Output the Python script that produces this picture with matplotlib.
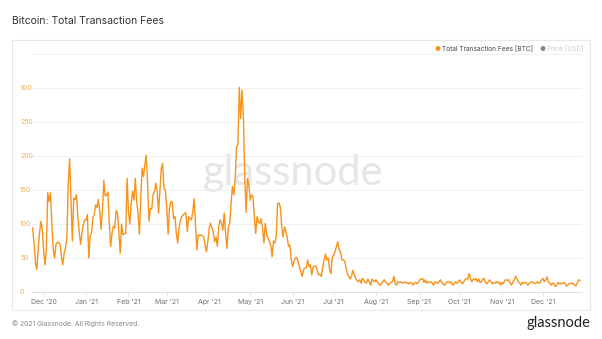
import matplotlib

matplotlib.use("Agg")
import matplotlib.dates as mdates
import matplotlib.pyplot as plt
import numpy as np
import pandas as pd
from matplotlib.patches import Rectangle

plt.rcParams["font.family"] = ["Inter", "DejaVu Sans"]

# daily total fees in BTC, late Nov 2020 -> end of Dec 2021
fees_nov_jan = [94, 72, 43, 33, 62, 87, 104, 92, 62, 40, 62, 146, 133, 146, 101, 62, 50, 70,
                73, 73, 70, 52, 40, 57, 65, 79, 160, 196, 136, 75, 138, 136, 143, 111, 89, 70,
                87, 99, 106, 106, 114, 50, 82, 87, 109, 114, 128, 124, 136, 119, 92, 121, 164,
                141, 143, 147, 101, 67, 87, 97, 94, 120, 116, 87, 57, 100]
fees_jan_apr = [84, 86, 86, 167, 118, 100, 130, 148, 135, 167, 133, 116, 85, 138, 182, 170,
                187, 201, 160, 104, 123, 122, 143, 148, 160, 148, 116, 148, 182, 189, 152, 150,
                123, 85, 123, 133, 132, 108, 111, 86, 72, 94, 106, 111, 113, 116, 116, 89, 111,
                108, 106, 118, 137, 99, 62, 84, 83, 84, 83, 81, 69, 59, 74, 94, 101, 94, 88, 74, 81]
fees_apr_jun = [67, 96, 106, 101, 91, 116, 86, 64, 96, 101, 130, 155, 143, 165, 214, 216, 301,
                255, 297, 258, 170, 117, 167, 157, 135, 143, 140, 111, 86, 111, 103, 101, 108,
                94, 72, 101, 84, 79, 75, 69, 52, 75, 72, 81, 130, 131, 125, 96, 81, 96, 89, 81,
                67, 69, 47, 37, 45, 50, 51, 45, 37, 30, 23, 33, 35]
fees_jun_sep = [36, 47, 37, 40, 25, 37, 38, 38, 32, 25, 26, 23, 37, 47, 56, 47, 50, 33, 27, 52,
                54, 59, 67, 74, 62, 59, 47, 47, 46, 36, 27, 23, 19, 23, 32, 26, 20, 17, 15, 18,
                13, 20, 18, 14, 13, 19, 15, 10, 19, 17, 15, 18, 14, 12, 10, 13, 15, 18, 14, 13,
                10, 13, 14, 15, 23, 12]
fees_sep_nov = [10, 15, 14, 15, 13, 14, 15, 13, 14, 12, 14, 13, 10, 13, 14, 12, 15, 18, 19, 20,
                14, 18, 13, 15, 14, 15, 13, 10, 15, 14, 13, 15, 18, 14, 12, 10, 13, 15, 15, 13,
                15, 10, 12, 15, 13, 14, 18, 15, 12, 15, 18, 20, 19, 27, 20, 15, 19, 18, 20, 15,
                19, 14, 15, 19, 20, 14, 12, 15, 18]
fees_nov_dec = [15, 12, 14, 13, 15, 13, 15, 10, 14, 12, 17, 18, 17, 18, 13, 10, 15, 18, 23, 19,
                15, 13, 10, 14, 13, 14, 13, 10, 13, 14, 15, 14, 12, 13, 15, 13, 14, 18, 20, 15,
                18, 22, 15, 13, 10, 13, 12, 8, 10, 14, 12, 13, 12, 14, 13, 9, 10, 12, 13, 12,
                13, 10, 9, 13, 18, 17]

fees = np.array(fees_nov_jan + fees_jan_apr + fees_apr_jun
                + fees_jun_sep + fees_sep_nov + fees_nov_dec, dtype=float)
dates = pd.date_range(end="2021-12-28", periods=len(fees), freq="D")

y_ticks = [0, 50, 100, 150, 200, 250, 300]

ORANGE = "#f7931a"
GRID = "#f0f0f0"

fig = plt.figure(figsize=(6.02, 3.39), dpi=100)
fig.patch.set_facecolor("white")

# card frame around the chart
fig.patches.append(Rectangle((12 / 602, 1 - 310 / 339), 578 / 602, 270 / 339,
                             transform=fig.transFigure, facecolor="none",
                             edgecolor="#e8e8e8", linewidth=0.8))

ax = fig.add_axes([32 / 602, 1 - 292 / 339, 550 / 602, 238 / 339])
ax.plot(dates, fees, color=ORANGE, linewidth=1.0, zorder=3)

ax.set_ylim(0, 350)
ax.set_xlim(dates[0] - pd.Timedelta(days=0.5), dates[-1] + pd.Timedelta(days=1.5))
ax.set_yticks(y_ticks)
for v in y_ticks[1:] + [350]:
    ax.axhline(v, color=GRID, linewidth=0.7, zorder=1)

ax.xaxis.set_major_locator(mdates.MonthLocator())
ax.xaxis.set_major_formatter(mdates.DateFormatter("%b '%y"))
ax.tick_params(axis="x", length=3, width=0.6, color="#e0e0e0", pad=2,
               labelsize=5, labelcolor="#707070")
ax.tick_params(axis="y", length=0, pad=8.6, labelsize=5, labelcolor="#f0b060")
for lbl in ax.get_yticklabels():
    lbl.set_horizontalalignment("left")

for side in ("top", "right", "left"):
    ax.spines[side].set_visible(False)
ax.spines["bottom"].set_color("#e0e0e0")
ax.spines["bottom"].set_linewidth(0.7)

# faint watermark behind the series
ax.text(0.475, 0.5, "glassnode", transform=ax.transAxes, ha="center", va="center",
        fontsize=30, color="#e6e6e6", family=["Lato", "DejaVu Sans"], zorder=0)

fig.text(12 / 602, 1 - 21 / 339, "Bitcoin: Total Transaction Fees", fontsize=7.5,
         color="#333333", va="center", ha="left")

# legend in the top right of the card
fig.text(438 / 602, 1 - 49 / 339, "\u25CF", color=ORANGE, fontsize=4.8, va="center", ha="center")
fig.text(442 / 602, 1 - 49 / 339, "Total Transaction Fees [BTC]", color="#444444",
         fontsize=4.7, va="center", ha="left")
fig.text(543 / 602, 1 - 49 / 339, "\u25CF", color="#888888", fontsize=4.8, va="center", ha="center")
fig.text(547 / 602, 1 - 49 / 339, "Price [USD]", color="#cccccc", fontsize=4.7,
         va="center", ha="left")

fig.text(12 / 602, 1 - 324 / 339, "\u00A9 2021 Glassnode. All Rights Reserved.",
         fontsize=4.9, color="#888888", va="center", ha="left")
fig.text(590 / 602, 1 - 323 / 339, "glassnode", fontsize=10.5, color="#222222",
         va="center", ha="right", family=["Lato", "DejaVu Sans"])

fig.savefig("out.png", dpi=100)
